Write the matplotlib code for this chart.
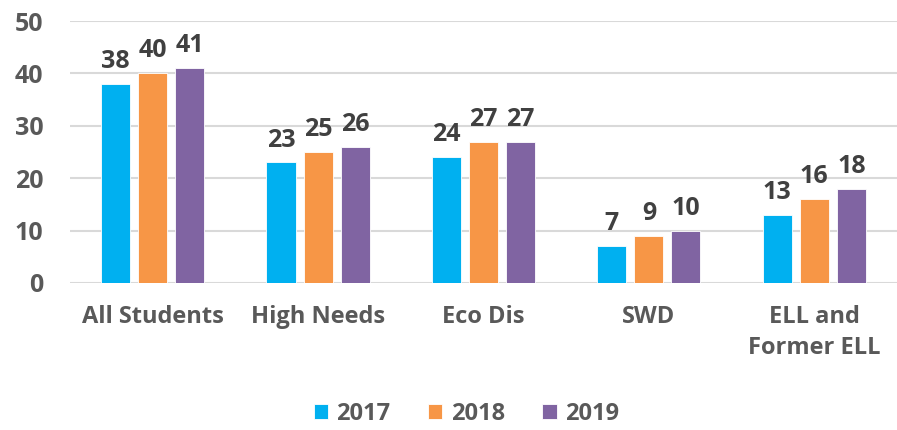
import numpy as np
import matplotlib.pyplot as plt

categories = ['All Students', 'High Needs', 'Eco Dis', 'SWD', 'ELL and\nFormer ELL']
years = ['2017', '2018', '2019']
values_2017 = [38, 23, 24, 7, 13]
values_2018 = [40, 25, 27, 9, 16]
values_2019 = [41, 26, 27, 10, 18]
colors = ['#00B0F0', '#F79646', '#8064A2']

plt.rcParams['font.family'] = ['Open Sans', 'DejaVu Sans']

fig = plt.figure(figsize=(8.97, 4.3), dpi=100)
ax = fig.add_axes([0.078, 0.342, 0.922, 0.609])

x = np.arange(len(categories))
step = 0.224
width = 0.176
series = [values_2017, values_2018, values_2019]
for i, (vals, year, c) in enumerate(zip(series, years, colors)):
    pos = x + (i - 1) * step
    bars = ax.bar(pos, vals, width, color=c, label=year, edgecolor='white', linewidth=0.6, zorder=3)
    for b, v in zip(bars, vals):
        ax.text(b.get_x() + b.get_width() / 2, v + 1.9, str(v), ha='center', va='bottom',
                fontsize=18, fontweight='bold', color='#404040')

ax.set_xlim(-0.5, len(categories) - 0.5)
ax.set_ylim(0, 50)
ax.set_yticks(range(0, 51, 10))
ax.yaxis.grid(True, color='#D9D9D9', linewidth=1.5, zorder=0)
ax.set_xticks(x)
ax.set_xticklabels(categories, fontsize=17, fontweight='bold', color='#595959', linespacing=1.4)
ax.tick_params(axis='y', labelsize=18, labelcolor='#595959', length=0, pad=19)
ax.tick_params(axis='x', length=0, pad=16)
for lbl in ax.get_yticklabels():
    lbl.set_fontweight('bold')
for s in ax.spines.values():
    s.set_visible(False)

leg = fig.legend(loc='center', bbox_to_anchor=(0.52, 0.038), ncol=3, frameon=False,
                 prop={'size': 17, 'weight': 'bold'}, handlelength=0.6, handleheight=0.6,
                 columnspacing=1.6, handletextpad=0.35)
for t in leg.get_texts():
    t.set_color('#595959')

fig.savefig('out.png', dpi=100)
